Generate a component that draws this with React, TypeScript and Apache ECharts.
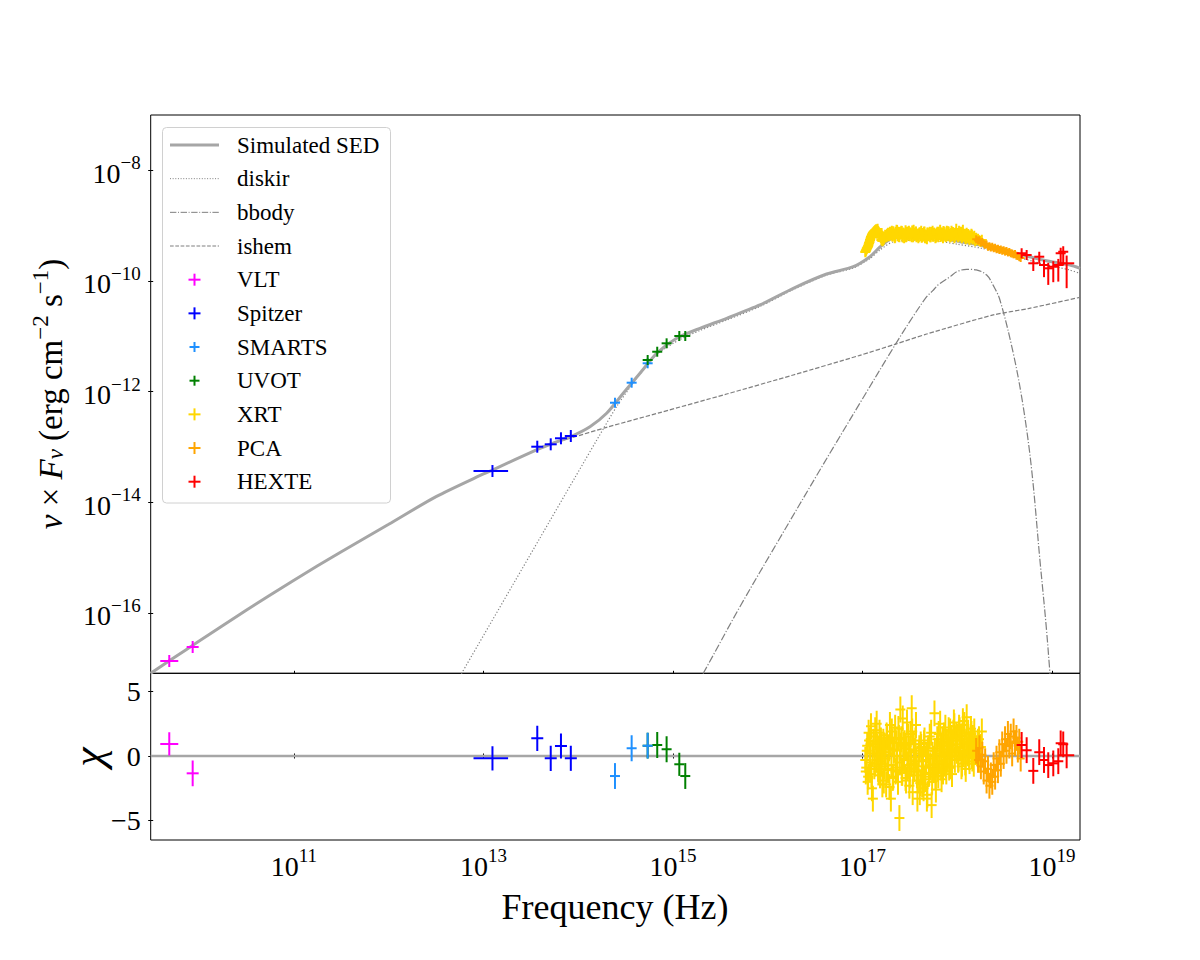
import React, { useEffect, useRef } from "react";
import * as echarts from "echarts";

// ---------- axis extents (log10 units for the two flux/frequency axes) ----------
const X_MIN = 9.488;
const X_MAX = 19.296;
const FLUX_MIN = -17.094;
const FLUX_MAX = -7.0;
const CHI_MIN = -6.5;
const CHI_MAX = 6.4;

const xTickExponents = [11, 13, 15, 17, 19];
const fluxTickExponents = [-16, -14, -12, -10, -8];
const chiTicks = [-5, 0, 5];

const legendLabels = ["Simulated SED", "diskir", "bbody", "ishem", "VLT", "Spitzer", "SMARTS", "UVOT", "XRT", "PCA", "HEXTE"];

// ---------- model curves (log10 nu [Hz], log10 nuFnu [erg cm^-2 s^-1]) ----------
const sedLogNu = [9.488, 9.70, 10.0, 10.5, 11.0, 11.5, 12.0, 12.5, 13.0, 13.1, 13.565, 13.712, 13.923, 14.124, 14.300, 14.475, 14.652, 14.828, 15.039, 15.285, 15.567, 15.918, 16.270, 16.622, 16.903, 17.079, 17.185, 17.322, 17.678, 18.029, 18.240, 18.557, 18.905, 19.190, 19.296];
const sedLogFlux = [-17.094, -16.85, -16.51, -15.95, -15.41, -14.895, -14.40, -13.90, -13.49, -13.415, -13.05, -12.948, -12.813, -12.636, -12.393, -12.032, -11.670, -11.309, -11.037, -10.857, -10.676, -10.435, -10.133, -9.875, -9.743, -9.562, -9.387, -9.224, -9.200, -9.291, -9.351, -9.472, -9.622, -9.712, -9.772];

const diskirLogNu = [12.70, 13.596, 13.966, 14.264, 14.409, 14.564, 14.722, 14.863, 15.074, 15.285, 15.567, 15.918, 16.270, 16.622, 16.903, 17.079, 17.185, 17.322, 17.678, 18.008, 18.258, 18.557, 18.905, 19.190, 19.296];
const diskirLogFlux = [-17.30, -14.648, -13.554, -12.677, -12.262, -11.882, -11.520, -11.285, -11.059, -10.896, -10.707, -10.462, -10.155, -9.893, -9.766, -9.595, -9.441, -9.296, -9.260, -9.338, -9.410, -9.531, -9.694, -9.803, -9.866];

const bbodyLogNu = [15.25, 15.320, 15.707, 16.129, 16.551, 16.974, 17.348, 17.52, 17.678, 17.74, 17.80, 17.924, 18.0, 18.100, 18.2, 18.311, 18.38, 18.451, 18.592, 18.697, 18.786, 18.873, 18.937, 18.979, 18.995];
const bbodyLogFlux = [-17.30, -17.094, -15.890, -14.648, -13.419, -12.207, -11.146, -10.68, -10.285, -10.18, -10.07, -9.924, -9.83, -9.790, -9.80, -9.893, -10.08, -10.345, -11.309, -12.274, -13.419, -15.046, -16.20, -17.094, -17.45];

const ishemLogNu = [9.488, 9.70, 10.0, 10.5, 11.0, 11.5, 12.0, 12.5, 13.0, 13.1, 13.565, 13.712, 13.923, 14.300, 14.863, 15.567, 16.270, 16.973, 17.343, 17.678, 18.381, 18.75, 19.296];
const ishemLogFlux = [-17.094, -16.85, -16.51, -15.95, -15.41, -14.895, -14.40, -13.90, -13.49, -13.415, -13.05, -12.948, -12.84, -12.647, -12.38, -12.045, -11.70, -11.345, -11.146, -10.96, -10.615, -10.50, -10.296];

// ---------- data: VLT ----------
const vltLogNu = [9.684, 9.931];
const vltLogFlux = [-16.872, -16.619];
const vltXErr = [0.095, 0.06];
const vltYErr = [0.02, 0.02];
const vltChi = [0.93, -1.34];
const vltChiErr = [0.9, 1.0];

// ---------- data: Spitzer ----------
const spitzerLogNu = [13.095, 13.568, 13.71, 13.818, 13.922];
const spitzerLogFlux = [-13.437, -12.997, -12.954, -12.845, -12.804];
const spitzerXErrLo = [0.2, 0.06, 0.06, 0.05, 0.05];
const spitzerXErrHi = [0.165, 0.06, 0.06, 0.05, 0.05];
const spitzerYErr = [0.05, 0.05, 0.05, 0.05, 0.05];
const spitzerChi = [-0.18, 1.37, -0.18, 0.78, -0.18];
const spitzerChiErr = [0.94, 0.98, 0.98, 0.97, 0.97];

// ---------- data: SMARTS ----------
const smartsLogNu = [14.388, 14.564, 14.733];
const smartsLogFlux = [-12.202, -11.840, -11.489];
const smartsXErr = [0.04, 0.04, 0.04];
const smartsYErr = [0.05, 0.05, 0.05];
const smartsChi = [-1.55, 0.6, 0.8];
const smartsChiErr = [1.0, 1.0, 1.0];

// ---------- data: UVOT ----------
const uvotLogNu = [14.733, 14.834, 14.933, 15.067, 15.130];
const uvotLogFlux = [-11.430, -11.280, -11.128, -10.996, -10.996];
const uvotXErr = [0.03, 0.03, 0.03, 0.03, 0.03];
const uvotYErr = [0.04, 0.04, 0.04, 0.04, 0.04];
const uvotChi = [0.8, 0.85, 0.52, -0.64, -1.55];
const uvotChiErr = [1.0, 1.0, 1.0, 0.9, 1.0];

// ---------- data: XRT (two interleaved channel groups) ----------
const xrtLogNuA = [
  17.03, 17.04, 17.05, 17.06, 17.07, 17.08, 17.09, 17.10, 17.11, 17.12, 17.13, 17.14, 17.15, 17.16,
  17.17, 17.18, 17.19, 17.20, 17.21, 17.22, 17.23, 17.24, 17.25, 17.26, 17.27, 17.28, 17.29,
  17.30, 17.31, 17.32, 17.33, 17.34, 17.35, 17.36, 17.37, 17.38, 17.39, 17.40, 17.41, 17.42, 17.43,
  17.44, 17.45, 17.46, 17.47, 17.48, 17.49, 17.50, 17.51, 17.52, 17.53, 17.54, 17.55, 17.56, 17.57,
  17.58, 17.59, 17.60, 17.61, 17.62, 17.63, 17.64, 17.65, 17.66, 17.67, 17.68, 17.69, 17.70, 17.71,
  17.72, 17.73, 17.74, 17.75, 17.76, 17.77, 17.78, 17.79, 17.80, 17.81, 17.82, 17.83, 17.84, 17.85,
  17.86, 17.87, 17.88, 17.89, 17.90, 17.91, 17.92, 17.93, 17.94, 17.95, 17.96, 17.97, 17.98, 17.99,
  18.00, 18.01, 18.02, 18.03, 18.04, 18.05, 18.06, 18.07, 18.08, 18.09, 18.10, 18.11, 18.12, 18.13,
  18.14, 18.15, 18.16, 18.17, 18.18, 18.19, 18.20, 18.22, 18.24, 18.26,
];
const xrtLogFluxA = [
  -9.477, -9.441, -9.404, -9.368, -9.314, -9.260, -9.206, -9.169, -9.133, -9.115, -9.097, -9.079, -9.097, -9.061,
  -9.115, -9.151, -9.206, -9.260, -9.278, -9.242, -9.224, -9.169, -9.206, -9.151, -9.133, -9.188, -9.115,
  -9.169, -9.097, -9.188, -9.133, -9.224, -9.115, -9.079, -9.188, -9.115, -9.206, -9.151, -9.097, -9.188, -9.133,
  -9.224, -9.151, -9.206, -9.115, -9.169, -9.097, -9.188, -9.133, -9.206, -9.151, -9.079, -9.169, -9.115, -9.206,
  -9.151, -9.224, -9.133, -9.188, -9.097, -9.206, -9.151, -9.115, -9.224, -9.169, -9.242, -9.133, -9.188, -9.115,
  -9.206, -9.169, -9.097, -9.188, -9.133, -9.224, -9.169, -9.115, -9.206, -9.151, -9.079, -9.188, -9.133, -9.224,
  -9.115, -9.169, -9.206, -9.097, -9.188, -9.115, -9.151, -9.206, -9.097, -9.188, -9.133, -9.224, -9.151, -9.061,
  -9.169, -9.206, -9.097, -9.169, -9.115, -9.224, -9.079, -9.188, -9.151, -9.242, -9.133, -9.224, -9.169, -9.260,
  -9.188, -9.151, -9.242, -9.206, -9.188, -9.278, -9.224, -9.242, -9.278, -9.260,
];
const xrtChiA = [
  -0.3, -0.9, 0.8, -1.6, 1.2, -1.0, 2.3, -2.5, -3.3, 0.9, -0.6, 1.5, 2.5, 0.5,
  -1.2, 1.8, -0.4, 0.7, -2.2, 1.1, -0.8, 0.3, -2.2, 1.4, -1.1, 0.6, 2.4,
  -3.3, 1.9, -1.7, 0.4, 1.4, -1.2, 1.0, -0.9, 2.1, -4.8, 3.6, 1.3, -1.3, 0.9,
  -0.3, 0.8, -1.9, 2.6, -0.7, 0.5, -1.5, 1.7, 3.7, -2.8, 0.9, -1.0, 1.2, -0.4,
  -3.3, -1.2, 0.6, -2.1, 0.7, -2.2, -0.8, 1.0, -1.8, -0.3, -3.3, 0.4, -1.4, 1.5,
  -0.9, -3.8, 0.1, -1.1, 3.3, -1.6, -0.6, 1.3, -1.5, 0.2, 2.5, -0.9, 0.8, -1.2,
  1.6, 0.3, -0.7, 1.1, -0.2, 2.0, 0.5, -0.8, 1.4, 0.0, 1.8, 2.3, 0.9, 1.6,
  1.2, -0.3, 2.2, 0.6, 1.5, -0.6, 2.7, 0.4, 1.0, -1.0, 3.0, 0.2, 1.3, -0.4,
  0.8, 1.7, -0.2, 0.5, 1.9, 0.3, 0.6, 1.1, -0.3, 1.9,
];
const xrtLogNuB = [
  17.035, 17.045, 17.055, 17.065, 17.075, 17.085, 17.095, 17.105, 17.115, 17.125, 17.135, 17.145, 17.155, 17.165,
  17.175, 17.185, 17.195, 17.205, 17.215, 17.225, 17.235, 17.245, 17.255, 17.265, 17.275, 17.285, 17.295,
  17.305, 17.315, 17.325, 17.335, 17.345, 17.355, 17.365, 17.375, 17.385, 17.395, 17.405, 17.415, 17.425, 17.435,
  17.445, 17.455, 17.465, 17.475, 17.485, 17.495, 17.505, 17.515, 17.525, 17.535, 17.545, 17.555, 17.565, 17.575,
  17.585, 17.595, 17.605, 17.615, 17.625, 17.635, 17.645, 17.655, 17.665, 17.675, 17.685, 17.695, 17.705, 17.715,
  17.725, 17.735, 17.745, 17.755, 17.765, 17.775,
  17.785, 17.795, 17.805, 17.815, 17.825, 17.835, 17.845, 17.855, 17.865, 17.875, 17.885, 17.895, 17.905, 17.915,
  17.925, 17.935, 17.945, 17.955, 17.965, 17.975, 17.985, 17.995,
  18.005, 18.015, 18.025, 18.035, 18.045, 18.055, 18.065, 18.075, 18.085, 18.095, 18.105, 18.115, 18.125, 18.135,
  18.145, 18.155, 18.165, 18.175, 18.185, 18.195, 18.21, 18.23, 18.25,
];
const xrtLogFluxB = [
  -9.46, -9.42, -9.385, -9.34, -9.29, -9.235, -9.19, -9.15, -9.125, -9.10, -9.085, -9.07, -9.09, -9.10,
  -9.13, -9.17, -9.22, -9.25, -9.27, -9.25, -9.21, -9.19, -9.18, -9.16, -9.14, -9.17, -9.13,
  -9.125, -9.19, -9.105, -9.16, -9.215, -9.14, -9.085, -9.175, -9.20, -9.12, -9.155, -9.10, -9.21, -9.135,
  -9.17, -9.09, -9.195, -9.145, -9.115, -9.185, -9.13, -9.16, -9.095, -9.205, -9.14, -9.175, -9.11, -9.19,
  -9.15, -9.20, -9.125, -9.175, -9.215, -9.14, -9.19, -9.11, -9.165, -9.225, -9.13, -9.18, -9.145, -9.205,
  -9.12, -9.17, -9.195, -9.135, -9.16, -9.21,
  -9.14, -9.18, -9.115, -9.165, -9.20, -9.13, -9.17, -9.10, -9.155, -9.19, -9.125, -9.175, -9.105, -9.16,
  -9.205, -9.14, -9.18, -9.12, -9.165, -9.195, -9.13, -9.17,
  -9.15, -9.19, -9.125, -9.175, -9.21, -9.14, -9.195, -9.16, -9.225, -9.175, -9.205, -9.155, -9.235, -9.19,
  -9.22, -9.17, -9.245, -9.21, -9.24, -9.26, -9.255, -9.27, -9.285,
];
const xrtChiB = [
  -1.2, 0.4, -2.0, 1.8, -0.5, 0.9, -1.4, 0.2, 1.1, -0.8, 2.0, -0.3, 0.7, -1.0,
  0.5, -1.5, 1.2, -0.6, 0.3, -1.9, 0.8, -0.2, 1.6, -1.0, 0.1, -2.4, 1.0,
  -0.7, 1.1, -1.6, 0.5, 2.2, -1.1, 0.0, -2.0, 1.4, -0.5, 0.8, -1.3, 2.9, -0.2,
  1.0, -1.7, 0.6, -0.9, 1.5, -2.3, 0.3, -0.6, 1.9, -1.2, 0.4, -0.1, 2.4, -1.5,
  -1.9, 0.2, -2.8, 0.9, -1.1, -0.4, -2.5, 1.2, -1.6, 0.0, -3.0, 0.6, -1.3, -0.7,
  1.8, -2.0, -0.2, -1.0, 0.4, -2.6,
  0.6, -1.0, 1.7, -0.4, 0.9, -1.8, 1.3, 0.1, -0.6, 2.2, -1.2, 0.5, 1.0, -0.9,
  1.9, 0.3, -1.4, 0.8, 2.6, -0.3, 1.2, 0.4,
  1.5, -0.2, 2.0, 0.7, -0.8, 1.6, 0.2, 2.4, -0.5, 1.1, 0.5, 1.8, -0.1, 0.9,
  2.1, 0.0, 1.4, -0.6, 1.0, 0.6, 0.2, 1.3, 0.7,
];
const XRT_X_ERR = 0.03;
const XRT_Y_ERR = 0.095;
const XRT_CHI_ERR = 1.0;

// ---------- data: PCA ----------
const pcaLogNu = [18.20, 18.22, 18.235, 18.25, 18.265, 18.28, 18.295, 18.31, 18.325, 18.34, 18.355, 18.37, 18.385, 18.40, 18.415, 18.43, 18.445, 18.46, 18.475, 18.49, 18.505, 18.52, 18.535, 18.55, 18.565, 18.58, 18.595, 18.61, 18.625, 18.64, 18.655, 18.67];
const pcaLogFlux = [-9.245, -9.27, -9.265, -9.30, -9.295, -9.33, -9.345, -9.34, -9.38, -9.375, -9.395, -9.38, -9.41, -9.40, -9.425, -9.42, -9.44, -9.43, -9.455, -9.445, -9.47, -9.46, -9.485, -9.475, -9.50, -9.505, -9.52, -9.515, -9.545, -9.55, -9.57, -9.585];
const pcaChi = [0.4, -0.3, 0.6, -0.8, 0.1, -1.2, -0.4, -1.9, -1.0, -2.3, -1.5, -2.0, -0.7, -1.6, -0.2, -1.1, 0.3, -0.6, 0.9, 0.0, 1.3, 0.4, 1.7, 0.8, 1.5, 0.2, 1.9, 1.0, 1.4, 0.5, 1.1, -0.2];
const PCA_X_ERR = 0.01;
const PCA_Y_ERR = 0.05;
const PCA_CHI_ERR = 1.0;

// ---------- data: HEXTE ----------
const hexteLogNu = [18.680, 18.733, 18.803, 18.866, 18.916, 18.961, 19.014, 19.067, 19.092, 19.119, 19.155];
const hexteLogFlux = [-9.501, -9.531, -9.681, -9.562, -9.712, -9.772, -9.743, -9.712, -9.501, -9.472, -9.681];
const hexteXErr = [0.025, 0.025, 0.03, 0.035, 0.035, 0.04, 0.04, 0.045, 0.05, 0.05, 0.08];
const hexteYErrUp = [0.05, 0.05, 0.07, 0.07, 0.09, 0.1, 0.1, 0.11, 0.1, 0.1, 0.14];
const hexteYErrDown = [0.07, 0.09, 0.14, 0.13, 0.22, 0.30, 0.28, 0.30, 0.22, 0.25, 0.45];
const hexteChi = [0.85, 0.45, -1.15, 0.30, -0.31, -0.70, -0.57, -0.40, 0.98, 0.90, 0.05];
const HEXTE_CHI_ERR = 1.0;

// ---------- styles ----------
const FONT = '"Liberation Serif", "Times New Roman", serif';
const SED_COLOR = "#a6a6a6";
const COMP_COLOR = "#7f7f7f";
const DOTTED = [1.2, 2.0];
const DASHDOT = [7.7, 1.9, 1.2, 1.9];
const DASHED = [4.4, 1.9];

const INSTR_STYLE: Record<string, { color: string; mk: number }> = {
  VLT: { color: "#ff00ff", mk: 6 },
  Spitzer: { color: "#0000ff", mk: 6 },
  SMARTS: { color: "#1e90ff", mk: 5 },
  UVOT: { color: "#008000", mk: 5 },
  XRT: { color: "#ffd700", mk: 5 },
  PCA: { color: "#ffa500", mk: 4 },
  HEXTE: { color: "#ff0000", mk: 5 },
};

const fill = (arr: number[], v: number) => arr.map(() => v);
const zip6 = (a: number[], b: number[], c: number[], d: number[], e: number[], f: number[]) =>
  a.map((v, i) => [v, b[i], c[i], d[i], e[i], f[i]]);
const pairs = (a: number[], b: number[]) => a.map((v, i) => [v, b[i]]);

const xrtLogNu = xrtLogNuA.concat(xrtLogNuB);
const xrtLogFlux = xrtLogFluxA.concat(xrtLogFluxB);
const xrtChi = xrtChiA.concat(xrtChiB);

const instruments = [
  {
    name: "VLT",
    top: zip6(vltLogNu, vltLogFlux, vltXErr, vltXErr, vltYErr, vltYErr),
    res: zip6(vltLogNu, vltChi, vltXErr, vltXErr, vltChiErr, vltChiErr),
    resZ: 5,
  },
  {
    name: "Spitzer",
    top: zip6(spitzerLogNu, spitzerLogFlux, spitzerXErrLo, spitzerXErrHi, spitzerYErr, spitzerYErr),
    res: zip6(spitzerLogNu, spitzerChi, spitzerXErrLo, spitzerXErrHi, spitzerChiErr, spitzerChiErr),
    resZ: 5,
  },
  {
    name: "SMARTS",
    top: zip6(smartsLogNu, smartsLogFlux, smartsXErr, smartsXErr, smartsYErr, smartsYErr),
    res: zip6(smartsLogNu, smartsChi, smartsXErr, smartsXErr, smartsChiErr, smartsChiErr),
    resZ: 6,
  },
  {
    name: "UVOT",
    top: zip6(uvotLogNu, uvotLogFlux, uvotXErr, uvotXErr, uvotYErr, uvotYErr),
    res: zip6(uvotLogNu, uvotChi, uvotXErr, uvotXErr, uvotChiErr, uvotChiErr),
    resZ: 5,
  },
  {
    name: "XRT",
    top: zip6(xrtLogNu, xrtLogFlux, fill(xrtLogNu, XRT_X_ERR), fill(xrtLogNu, XRT_X_ERR), fill(xrtLogNu, XRT_Y_ERR), fill(xrtLogNu, XRT_Y_ERR)),
    res: zip6(xrtLogNu, xrtChi, fill(xrtLogNu, XRT_X_ERR), fill(xrtLogNu, XRT_X_ERR), fill(xrtLogNu, XRT_CHI_ERR), fill(xrtLogNu, XRT_CHI_ERR)),
    resZ: 5,
  },
  {
    name: "PCA",
    top: zip6(pcaLogNu, pcaLogFlux, fill(pcaLogNu, PCA_X_ERR), fill(pcaLogNu, PCA_X_ERR), fill(pcaLogNu, PCA_Y_ERR), fill(pcaLogNu, PCA_Y_ERR)),
    res: zip6(pcaLogNu, pcaChi, fill(pcaLogNu, PCA_X_ERR), fill(pcaLogNu, PCA_X_ERR), fill(pcaLogNu, PCA_CHI_ERR), fill(pcaLogNu, PCA_CHI_ERR)),
    resZ: 6,
  },
  {
    name: "HEXTE",
    top: zip6(hexteLogNu, hexteLogFlux, hexteXErr, hexteXErr, hexteYErrDown, hexteYErrUp),
    res: zip6(hexteLogNu, hexteChi, hexteXErr, hexteXErr, fill(hexteLogNu, HEXTE_CHI_ERR), fill(hexteLogNu, HEXTE_CHI_ERR)),
    resZ: 7,
  },
];

function errRender(color: string, mk: number) {
  return (_params: any, api: any) => {
    const x = api.value(0);
    const y = api.value(1);
    const xl = api.value(2);
    const xh = api.value(3);
    const yl = api.value(4);
    const yh = api.value(5);
    const c = api.coord([x, y]);
    const L = api.coord([x - xl, y]);
    const R = api.coord([x + xh, y]);
    const T = api.coord([x, y + yh]);
    const B = api.coord([x, y - yl]);
    const x1 = Math.min(L[0], c[0] - mk);
    const x2 = Math.max(R[0], c[0] + mk);
    const y1 = Math.min(T[1], c[1] - mk);
    const y2 = Math.max(B[1], c[1] + mk);
    return {
      type: "group",
      children: [
        { type: "line", shape: { x1, y1: c[1], x2, y2: c[1] }, style: { stroke: color, lineWidth: 2 } },
        { type: "line", shape: { x1: c[0], y1, x2: c[0], y2 }, style: { stroke: color, lineWidth: 2 } },
      ],
    };
  };
}

const minusFmt = (v: number) => (v < 0 ? "\u2212" + Math.abs(v) : String(v));
const expRich = {
  b: { fontSize: 28, fontFamily: FONT, color: "#000", lineHeight: 34, verticalAlign: "bottom" },
  s: { fontSize: 19, fontFamily: FONT, color: "#000", lineHeight: 19, verticalAlign: "top" },
};

function buildOption() {
  const GL = 150.7;
  const GW = 1080 - 150.7;
  const TOP = 115;
  const MID = 673.3;
  const BOT = 840;

  const tickStyle = { color: "#000", width: 1 };

  const lineSeries = (name: string, xs: number[], ys: number[], color: string, width: number, type: any, z: number, smooth: number) => ({
    name,
    type: "line",
    xAxisIndex: 0,
    yAxisIndex: 0,
    data: pairs(xs, ys),
    showSymbol: false,
    symbol: "none",
    smooth,
    clip: true,
    z,
    lineStyle: { color, width, type },
    silent: true,
  });

  const series: any[] = [
    lineSeries("ishem", ishemLogNu, ishemLogFlux, COMP_COLOR, 1.2, DASHED, 2, 0.25),
    lineSeries("diskir", diskirLogNu, diskirLogFlux, COMP_COLOR, 1.2, DOTTED, 2, 0.25),
    lineSeries("bbody", bbodyLogNu, bbodyLogFlux, COMP_COLOR, 1.2, DASHDOT, 2, 0.35),
    lineSeries("Simulated SED", sedLogNu, sedLogFlux, SED_COLOR, 3, "solid", 3, 0.25),
    {
      name: "zero",
      type: "line",
      xAxisIndex: 1,
      yAxisIndex: 1,
      data: [[X_MIN, 0], [X_MAX, 0]],
      showSymbol: false,
      symbol: "none",
      z: 3,
      lineStyle: { color: SED_COLOR, width: 2.5 },
      silent: true,
    },
  ];

  instruments.forEach((ins) => {
    const st = INSTR_STYLE[ins.name];
    series.push({
      name: ins.name,
      type: "custom",
      coordinateSystem: "cartesian2d",
      xAxisIndex: 0,
      yAxisIndex: 0,
      dimensions: ["x", "y", "xl", "xh", "yl", "yh"],
      encode: { x: 0, y: 1 },
      data: ins.top,
      renderItem: errRender(st.color, st.mk),
      clip: true,
      z: 5,
      silent: true,
    });
    series.push({
      name: ins.name + " res",
      type: "custom",
      coordinateSystem: "cartesian2d",
      xAxisIndex: 1,
      yAxisIndex: 1,
      dimensions: ["x", "y", "xl", "xh", "yl", "yh"],
      encode: { x: 0, y: 1 },
      data: ins.res,
      renderItem: errRender(st.color, st.mk),
      clip: true,
      z: ins.resZ,
      silent: true,
    });
  });

  // ---------- legend drawn with graphic elements ----------
  const legX = 162.5;
  const legY = 127.5;
  const legW = 228;
  const legH = 375.5;
  const row0 = 145;
  const rowStep = 33.67;
  const hx1 = 170;
  const hx2 = 219;
  const mx = 194.5;
  const tx = 237;

  const graphics: any[] = [
    {
      type: "rect",
      z: 100,
      shape: { x: legX, y: legY, width: legW, height: legH, r: 4 },
      style: { fill: "rgba(255,255,255,0.8)", stroke: "#d0d0d0", lineWidth: 1 },
    },
  ];
  const lineHandles = [
    { color: SED_COLOR, width: 3, dash: null as any },
    { color: COMP_COLOR, width: 1, dash: [1, 1.65] },
    { color: COMP_COLOR, width: 1, dash: [6.4, 1.6, 1, 1.6] },
    { color: COMP_COLOR, width: 1, dash: [3.7, 1.6] },
  ];
  legendLabels.forEach((label, i) => {
    const y = row0 + i * rowStep;
    if (i < 4) {
      const h = lineHandles[i];
      graphics.push({
        type: "line",
        z: 101,
        shape: { x1: hx1, y1: y, x2: hx2, y2: y },
        style: { stroke: h.color, lineWidth: h.width, lineDash: h.dash || undefined },
      });
    } else {
      const st = INSTR_STYLE[label];
      const m = label === "SMARTS" || label === "UVOT" ? 5 : 6;
      graphics.push({
        type: "line",
        z: 101,
        shape: { x1: mx - m, y1: y, x2: mx + m, y2: y },
        style: { stroke: st.color, lineWidth: 2 },
      });
      graphics.push({
        type: "line",
        z: 101,
        shape: { x1: mx, y1: y - m, x2: mx, y2: y + m },
        style: { stroke: st.color, lineWidth: 2 },
      });
    }
    graphics.push({
      type: "text",
      z: 101,
      x: tx,
      y,
      style: { text: label, font: `23px ${FONT}`, fontSize: 23, fontFamily: FONT, fill: "#000", align: "left", verticalAlign: "middle" },
    });
  });

  // axis titles
  graphics.push({
    type: "text",
    z: 101,
    x: 615,
    y: 907,
    style: { text: "Frequency (Hz)", font: `36px ${FONT}`, fontSize: 36, fontFamily: FONT, fill: "#000", align: "center", verticalAlign: "middle" },
  });
  graphics.push({
    type: "text",
    z: 101,
    x: 48,
    y: 394,
    rotation: Math.PI / 2,
    style: {
      text: "{i|ν}{n| × }{i|F}{sub|ν}{n| (erg cm}{sup|−2}{n| s}{sup|−1}{n|)}",
      align: "center",
      verticalAlign: "middle",
      fill: "#000",
      font: `33px ${FONT}`,
      fontFamily: FONT,
      rich: {
        i: { fontSize: 33, fontFamily: FONT, fontStyle: "italic", lineHeight: 38, verticalAlign: "bottom", fill: "#000" },
        n: { fontSize: 33, fontFamily: FONT, lineHeight: 38, verticalAlign: "bottom", fill: "#000" },
        sup: { fontSize: 23, fontFamily: FONT, verticalAlign: "top", lineHeight: 23, fill: "#000" },
        sub: { fontSize: 23, fontFamily: FONT, fontStyle: "italic", verticalAlign: "bottom", lineHeight: 23, fill: "#000" },
      },
    },
  });
  graphics.push({
    type: "text",
    z: 101,
    x: 88,
    y: 757,
    rotation: Math.PI / 2,
    style: { text: "χ", font: `italic 44px ${FONT}`, fontSize: 44, fontFamily: FONT, fontStyle: "italic", fill: "#000", align: "center", verticalAlign: "middle" },
  });

  return {
    animation: false,
    backgroundColor: "#fff",
    textStyle: { fontFamily: FONT },
    grid: [
      { left: GL, top: TOP, width: GW, height: MID - TOP, show: true, borderColor: "#000", borderWidth: 1, backgroundColor: "transparent" },
      { left: GL, top: MID, width: GW, height: BOT - MID, show: true, borderColor: "#000", borderWidth: 1, backgroundColor: "transparent" },
    ],
    xAxis: [
      {
        gridIndex: 0, type: "value", position: "bottom", min: X_MIN, max: X_MAX,
        axisLine: { show: false }, splitLine: { show: false },
        axisTick: { show: true, inside: true, length: 2.5, customValues: xTickExponents, lineStyle: tickStyle },
        axisLabel: { show: false },
      },
      {
        gridIndex: 1, type: "value", position: "bottom", min: X_MIN, max: X_MAX,
        axisLine: { show: false }, splitLine: { show: false },
        axisTick: { show: true, inside: false, length: 2.5, customValues: xTickExponents, lineStyle: tickStyle },
        axisLabel: { show: true, customValues: xTickExponents, margin: 6, formatter: (v: number) => `{b|10}{s|${minusFmt(v)}}`, rich: expRich },
      },
      {
        gridIndex: 1, type: "value", position: "bottom", min: X_MIN, max: X_MAX,
        axisLine: { show: false }, splitLine: { show: false },
        axisTick: { show: true, inside: true, length: 2.5, customValues: xTickExponents, lineStyle: tickStyle },
        axisLabel: { show: false },
      },
    ],
    yAxis: [
      {
        gridIndex: 0, type: "value", position: "left", min: FLUX_MIN, max: FLUX_MAX,
        axisLine: { show: false }, splitLine: { show: false },
        axisTick: { show: true, inside: false, length: 2.5, customValues: fluxTickExponents, lineStyle: tickStyle },
        axisLabel: { show: true, customValues: fluxTickExponents, margin: 10, formatter: (v: number) => `{b|10}{s|${minusFmt(v)}}`, rich: expRich },
      },
      {
        gridIndex: 1, type: "value", position: "left", min: CHI_MIN, max: CHI_MAX,
        axisLine: { show: false }, splitLine: { show: false },
        axisTick: { show: true, inside: false, length: 2.5, customValues: chiTicks, lineStyle: tickStyle },
        axisLabel: { show: true, customValues: chiTicks, margin: 10, fontSize: 28, fontFamily: FONT, color: "#000", formatter: (v: number) => minusFmt(v) },
      },
      {
        gridIndex: 0, type: "value", position: "left", min: FLUX_MIN, max: FLUX_MAX,
        axisLine: { show: false }, splitLine: { show: false },
        axisTick: { show: true, inside: true, length: 2.5, customValues: fluxTickExponents, lineStyle: tickStyle },
        axisLabel: { show: false },
      },
      {
        gridIndex: 1, type: "value", position: "left", min: CHI_MIN, max: CHI_MAX,
        axisLine: { show: false }, splitLine: { show: false },
        axisTick: { show: true, inside: true, length: 2.5, customValues: chiTicks, lineStyle: tickStyle },
        axisLabel: { show: false },
      },
    ],
    series,
    graphic: graphics,
  };
}

export default function App() {
  const ref = useRef<HTMLDivElement>(null);
  useEffect(() => {
    if (!ref.current) return;
    const chart = echarts.init(ref.current, null, { renderer: "svg" });
    chart.setOption(buildOption() as any);
    return () => chart.dispose();
  }, []);
  return <div ref={ref} style={{ position: "absolute", left: 0, top: 0, width: 1200, height: 960, background: "#fff" }} />;
}
